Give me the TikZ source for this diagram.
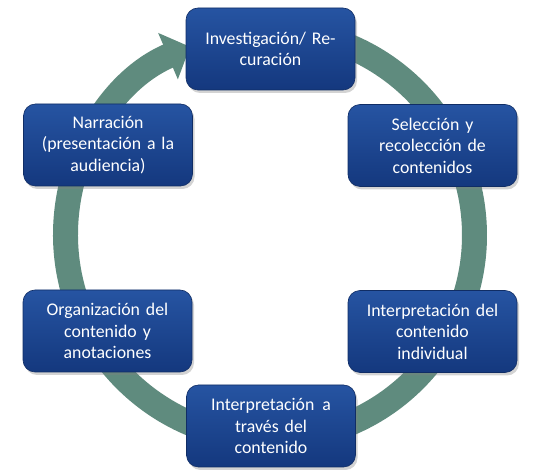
\documentclass[tikz,border=0pt]{standalone}
\usepackage{fontspec}
\setmainfont{Carlito}
\usetikzlibrary{arrows.meta,shadows}
\definecolor{ringcol}{RGB}{95,139,126}
\definecolor{boxtop}{RGB}{38,84,162}
\definecolor{boxbot}{RGB}{20,56,126}
\begin{document}
\begin{tikzpicture}[x=1pt,y=1pt,
  stepbox/.style={rounded corners=12pt, minimum width=169pt, minimum height=82pt,
    text width=160pt, align=center, text=white,
    font=\fontsize{17.8}{21.5}\selectfont,
    top color=boxtop, bottom color=boxbot, draw=boxbot!80!black, line width=0.6pt,
    drop shadow={shadow xshift=2pt, shadow yshift=-3pt, opacity=0.35},
    inner sep=0pt},
  cyclearrow/.style={draw=ringcol, line width=25pt,
    -{Triangle[width=49pt,length=24pt]}}]
\useasboundingbox (0,0) rectangle (539,474);
\coordinate (c) at (270,239);
\draw[cyclearrow] (c) ++(95:204.5) arc[start angle=95, end angle=-247, radius=204.5];
\node[stepbox] (top) at (270.5,425) {Investigación/ Re-\\curación};
\node[stepbox] (sel) at (432.5,328.5) {Selección y\\recolección de\\contenidos};
\node[stepbox] (ind) at (432.5,142.5) {Interpretación del\\contenido\\individual};
\node[stepbox] (bot) at (271,48) {Interpretación\hspace{2pt} a\\través del\\contenido};
\node[stepbox] (org) at (107.5,143) {Organización del\\contenido y\\anotaciones};
\node[stepbox] (nar) at (108,329) {Narración\\(presentación a la\\audiencia)};
\end{tikzpicture}
\end{document}
